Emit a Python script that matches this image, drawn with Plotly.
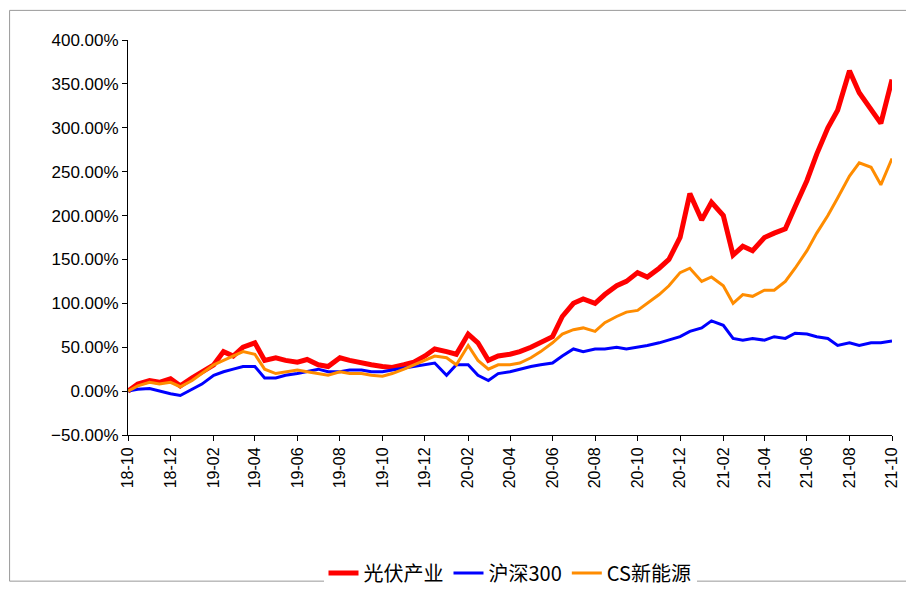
import pandas as pd
import plotly.graph_objects as go

dates = pd.date_range("2018-10-01", "2021-10-01", freq="SMS")

# 光伏产业 cumulative return, %
pv = [0, 8, 12, 10, 14, 6, 15, 22, 30, 45, 40, 50, 55, 35, 38, 35, 33, 36, 30, 28,
      38, 35, 33, 30, 28, 27, 30, 33, 40, 48, 45, 42, 65, 55, 35, 40, 42, 45, 50, 55,
      62, 85, 100, 105, 100, 110, 120, 125, 135, 130, 140, 150, 175, 225, 195, 215,
      200, 155, 165, 160, 175, 180, 185, 210, 240, 270, 300, 320, 365, 340, 320, 305, 355]
# 沪深300
hs300 = [0, 2, 3, 0, -3, -5, 2, 8, 18, 22, 25, 28, 28, 15, 15, 18, 20, 22, 25, 22,
         22, 24, 24, 22, 22, 24, 26, 28, 30, 32, 18, 30, 30, 18, 12, 20, 22, 25, 28, 30,
         32, 40, 48, 45, 48, 48, 50, 48, 50, 52, 55, 58, 62, 68, 72, 80,
         75, 60, 58, 60, 58, 62, 60, 66, 65, 62, 60, 52, 55, 52, 55, 55, 57]
# CS新能源
cs = [0, 6, 10, 8, 10, 5, 12, 20, 30, 35, 40, 45, 42, 25, 20, 22, 24, 22, 20, 18,
      22, 20, 20, 18, 17, 20, 25, 30, 35, 40, 38, 30, 52, 35, 25, 30, 30, 32, 38, 45,
      55, 65, 70, 72, 68, 78, 85, 90, 92, 100, 110, 120, 135, 140, 125, 130,
      120, 100, 110, 108, 115, 115, 125, 140, 160, 180, 200, 220, 245, 260, 255, 235, 265]

fig = go.Figure()
for name, vals, color, width in [("光伏产业", pv, "#ff0000", 5),
                                 ("沪深300", hs300, "#0000ff", 3),
                                 ("CS新能源", cs, "#ff8c00", 3)]:
    fig.add_trace(go.Scatter(x=dates, y=[v / 100 for v in vals], mode="lines", name=name,
                             line=dict(color=color, width=width)))

fig.update_layout(
    width=914, height=596,
    margin=dict(l=120, r=30, t=32, b=154),
    plot_bgcolor="white", paper_bgcolor="white",
    font=dict(family="Liberation Sans, Noto Sans CJK SC", size=16, color="black"),
    legend=dict(orientation="h", x=0.5, xanchor="center", y=-0.3, yanchor="top",
                font=dict(family="Noto Sans CJK SC", size=20)),
    xaxis=dict(range=["2018-10-01", "2021-10-01"], dtick="M2", tick0="2018-10-01",
               tickformat="%y-%m", tickangle=-90, showline=True, linecolor="black",
               ticks="outside", tickcolor="black", showgrid=False, tickfont=dict(size=16)),
    yaxis=dict(range=[-0.5, 4.0], dtick=0.5, tickformat=".2%", showline=True,
               linecolor="black", ticks="outside", tickcolor="black", showgrid=False,
               zeroline=False, tickfont=dict(size=17)),
    shapes=[dict(type="rect", xref="paper", yref="paper", x0=-0.155, x1=1.037,
                 y0=-0.37, y1=1.075, line=dict(color="#999", width=1))],
)
fig.write_html("out.html")
